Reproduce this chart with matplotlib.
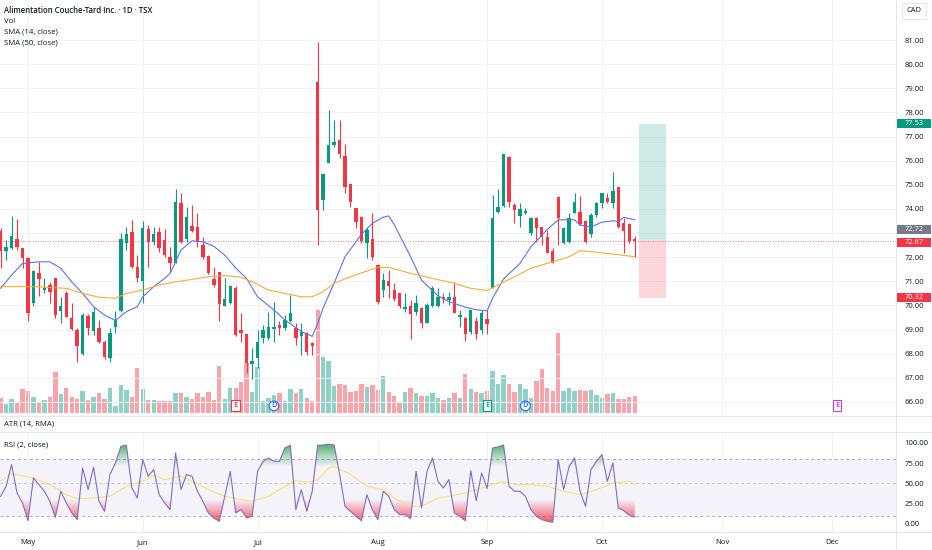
import numpy as np
import matplotlib
matplotlib.use('Agg')
import matplotlib.pyplot as plt
import matplotlib.transforms as mtrans
from matplotlib.patches import PathPatch, Rectangle
from matplotlib.path import Path
from matplotlib.lines import Line2D
from matplotlib.colors import to_rgb

plt.rcParams['font.family'] = ['Open Sans', 'DejaVu Sans']

# ---- daily candles (bar index 0 = Apr 24, bar 5 = May 1) ----
opens = [73.10, 72.24, 72.38, 72.74, 72.37, 71.95, 70.12, 71.36, 70.64, 70.85,
         71.12, 69.78, 70.53, 69.49, 68.98, 68.00, 69.57, 68.95, 69.05, 68.50,
         67.81, 69.12, 69.78, 72.57, 73.06, 71.58, 71.03, 73.16, 72.64, 73.06,
         72.71, 72.02, 71.75, 74.26, 72.74, 73.30, 73.24, 72.50, 72.05, 71.09,
         71.37, 69.99, 70.12, 70.71, 68.98, 68.82, 67.56, 67.81, 68.64, 68.64,
         69.01, 69.19, 69.05, 69.36, 69.05, 68.73, 68.85, 68.43, 79.27, 74.37,
         75.89, 76.65, 76.86, 76.19, 75.03, 74.02, 73.68, 72.57, 72.74, 71.68,
         70.64, 71.01, 70.64, 70.50, 69.85, 69.98, 69.74, 69.88, 69.29, 69.98,
         69.98, 70.36, 70.22, 70.36, 69.51, 69.46, 68.91, 69.37, 69.00, 69.43,
         70.71, 73.89, 74.12, 76.17, 74.16, 73.71, 73.85, 72.99, 73.64, 73.24,
         72.82, 72.26, 74.51, 72.57, 72.64, 73.85, 73.88, 73.51, 72.96, 73.75,
         74.26, 74.44, 74.23, 74.90, 73.40, 73.36, 72.74]
highs = [73.20, 72.71, 73.71, 73.57, 72.40, 72.00, 71.47, 71.81, 71.13, 70.98,
         71.15, 70.36, 70.61, 70.09, 69.05, 69.70, 69.64, 69.95, 69.40, 68.57,
         69.05, 69.77, 72.99, 73.26, 73.54, 72.09, 73.51, 73.33, 73.26, 73.26,
         73.16, 72.44, 74.81, 74.65, 74.09, 74.16, 73.82, 72.83, 72.10, 71.60,
         71.40, 71.12, 70.85, 70.80, 69.70, 68.82, 68.22, 68.98, 69.19, 69.74,
         70.16, 69.37, 69.60, 70.43, 69.26, 69.26, 68.88, 68.50, 80.93, 75.45,
         78.10, 77.68, 77.68, 76.68, 75.05, 74.05, 73.70, 73.26, 73.82, 71.70,
         71.33, 71.47, 70.95, 70.52, 70.50, 70.22, 70.43, 69.95, 70.10, 70.80,
         70.71, 70.50, 70.57, 70.98, 69.81, 69.53, 69.81, 69.53, 69.81, 69.81,
         74.58, 74.81, 76.28, 76.20, 74.26, 74.26, 74.02, 73.68, 73.68, 73.26,
         73.13, 72.40, 74.53, 73.26, 73.85, 74.65, 74.54, 73.55, 73.82, 74.30,
         74.67, 74.65, 75.54, 74.92, 73.61, 73.40, 72.88]
lows = [71.55, 71.90, 72.33, 72.30, 71.55, 69.37, 69.98, 70.39, 70.53, 70.09,
        69.50, 69.26, 69.51, 68.98, 67.67, 67.96, 68.77, 68.77, 68.43, 67.77,
        67.67, 68.84, 69.74, 72.30, 71.54, 70.98, 70.12, 71.58, 72.50, 72.20,
        72.02, 71.40, 71.75, 72.60, 72.64, 73.06, 72.44, 71.91, 71.30, 70.78,
        69.37, 69.97, 70.07, 68.75, 68.50, 67.20, 66.94, 67.40, 68.43, 68.57,
        68.50, 68.77, 69.00, 69.33, 68.36, 67.95, 67.95, 67.95, 72.50, 73.95,
        75.89, 76.58, 76.10, 74.67, 74.10, 73.20, 72.60, 71.95, 71.88, 70.06,
        70.36, 70.30, 70.20, 69.90, 69.74, 68.60, 69.60, 69.05, 69.26, 69.95,
        69.95, 70.09, 70.02, 69.67, 69.12, 68.54, 68.80, 68.60, 68.82, 68.82,
        70.71, 73.85, 74.10, 74.09, 73.40, 73.26, 73.78, 72.92, 72.64, 72.50,
        72.16, 71.75, 72.50, 72.55, 72.57, 73.82, 73.33, 72.57, 72.85, 73.68,
        74.02, 74.26, 74.02, 73.20, 72.19, 72.60, 72.02]
closes = [72.27, 72.41, 72.87, 72.44, 71.95, 69.67, 71.43, 71.08, 70.73, 70.57,
          69.60, 69.99, 69.53, 69.01, 68.32, 69.59, 69.05, 69.72, 68.50, 67.88,
          68.85, 69.40, 72.74, 72.96, 71.58, 71.12, 73.20, 72.64, 72.96, 72.37,
          72.09, 71.77, 74.30, 72.64, 73.68, 73.10, 72.64, 71.99, 71.36, 70.85,
          70.05, 70.26, 70.81, 68.77, 68.87, 67.60, 67.70, 68.50, 68.98, 69.12,
          69.12, 69.08, 69.40, 69.67, 68.64, 68.91, 68.08, 68.32, 73.95, 75.45,
          76.65, 76.79, 76.28, 74.90, 74.30, 73.47, 72.69, 73.13, 71.99, 70.16,
          71.05, 70.81, 70.25, 69.98, 69.92, 69.64, 70.09, 69.29, 70.02, 70.71,
          70.36, 70.25, 70.33, 69.70, 69.60, 68.82, 69.81, 68.82, 69.67, 69.23,
          73.61, 74.10, 76.28, 74.30, 73.95, 74.00, 73.93, 73.64, 73.20, 72.82,
          72.19, 71.77, 73.61, 73.20, 73.61, 74.30, 73.37, 72.64, 73.75, 74.23,
          74.65, 74.30, 74.75, 73.27, 73.10, 72.68, 72.67]
volume = [14.4, 8.7, 13.4, 10.4, 23.4, 21.7, 15.7, 10.4, 12.7, 16.0,
          40.4, 19.0, 24.4, 16.0, 14.0, 21.7, 12.7, 15.7, 19.4, 14.0,
          24.4, 6.7, 28.0, 22.7, 16.0, 44.4, 23.7, 12.7, 12.7, 11.7,
          11.7, 11.7, 19.4, 19.4, 16.0, 13.4, 19.4, 16.0, 21.0, 12.7,
          47.0, 13.4, 24.7, 24.4, 30.7, 49.7, 21.0, 45.4, 12.0, 14.7,
          17.7, 19.4, 12.0, 23.4, 20.0, 23.4, 14.4, 12.0, 102.7, 55.4,
          52.0, 26.7, 28.4, 27.7, 21.0, 22.0, 28.7, 26.0, 27.7, 22.7,
          36.7, 20.4, 16.7, 9.4, 20.4, 25.0, 19.4, 17.0, 16.7, 19.4,
          15.0, 12.7, 14.4, 19.4, 15.0, 38.7, 23.4, 21.0, 19.4, 22.0,
          42.0, 28.7, 37.7, 28.7, 21.0, 28.7, 23.4, 14.4, 32.0, 43.7,
          24.4, 22.0, 79.4, 22.0, 24.4, 22.0, 22.7, 22.0, 22.7, 17.7,
          14.4, 18.4, 19.4, 13.4, 14.0, 15.4, 16.7]

# ---- moving averages (at these bars) ----
sma14_bar = [0, 2, 4, 7, 9, 11, 13, 15, 17, 19, 21, 23, 25, 26, 28, 30, 31, 32, 33,
             35, 37, 39, 41, 43, 45, 47, 50, 52, 55, 57, 58, 59, 61, 63, 66, 68, 70,
             71, 72, 75, 77, 80, 82, 85, 87, 89, 90, 92, 95, 97, 100, 102, 105, 106,
             108, 110, 112, 113, 114, 116]
sma14_val = [70.71, 71.26, 71.74, 71.81, 71.81, 71.54, 70.98, 70.50, 69.95, 69.60,
             69.38, 69.74, 69.95, 70.36, 70.78, 71.12, 71.33, 71.81, 72.30, 72.68,
             72.64, 72.45, 72.09, 71.55, 71.12, 70.36, 69.81, 69.40, 68.92, 68.72,
             69.25, 69.90, 70.92, 72.02, 72.95, 73.40, 73.66, 73.71, 73.35, 72.02,
             71.05, 70.40, 70.16, 69.93, 69.82, 69.78, 70.30, 71.10, 71.74, 72.43,
             73.15, 73.55, 73.55, 73.33, 73.26, 73.45, 73.51, 73.48, 73.65, 73.55]
sma50_bar = [0, 6, 12, 15, 18, 21, 23, 26, 29, 32, 35, 38, 41, 44, 46, 49, 52, 55,
             57, 59, 61, 64, 66, 69, 71, 75, 79, 83, 86, 89, 91, 94, 97, 101, 104,
             106, 108, 112, 116]
sma50_val = [70.78, 70.78, 70.71, 70.50, 70.34, 70.30, 70.50, 70.64, 70.85, 70.98,
             71.08, 71.19, 71.24, 71.17, 70.98, 70.64, 70.50, 70.36, 70.36, 70.57,
             70.92, 71.19, 71.35, 71.58, 71.58, 71.33, 71.12, 70.92, 70.71, 70.62,
             70.85, 71.19, 71.54, 71.81, 72.02, 72.27, 72.23, 72.13, 72.02]

# ---- RSI (2) per bar and its moving average ----
rsi = [34.2, 46.5, 73.3, 38.3, 26.0, 4.1, 56.8, 48.6, 40.4, 28.0,
       8.3, 40.4, 26.0, 13.6, 5.4, 69.1, 42.4, 70.0, 28.0, 15.6,
       61.0, 75.3, 95.9, 97.1, 44.5, 32.1, 79.4, 58.9, 67.1, 36.2,
       26.0, 17.7, 87.7, 42.4, 61.0, 58.9, 40.4, 28.0, 13.6, 7.4,
       3.3, 34.2, 65.0, 13.6, 17.7, 7.4, 9.5, 65.0, 77.4, 81.5,
       77.4, 77.4, 93.8, 97.1, 17.7, 42.4, 15.6, 40.4, 97.0, 97.5,
       98.4, 97.5, 62.0, 21.8, 15.6, 9.5, 4.1, 36.2, 17.7, 5.4,
       40.4, 34.2, 17.7, 11.5, 11.5, 6.6, 65.0, 19.7, 65.0, 81.5,
       52.7, 44.5, 54.7, 13.6, 9.5, 4.1, 65.8, 28.8, 63.0, 43.7,
       93.8, 95.0, 97.5, 46.5, 40.4, 40.4, 34.2, 17.7, 9.5, 5.4,
       3.3, 2.1, 79.4, 42.4, 71.2, 81.5, 40.4, 21.8, 67.1, 77.4,
       85.6, 52.7, 75.3, 19.7, 16.5, 10.7, 8.6]
rsi_ma_bar = [0, 2, 6, 9, 12, 14, 17, 20, 23, 26, 28, 30, 33, 35, 38, 41, 44, 46, 49,
              51, 54, 56, 58, 60, 61, 64, 67, 70, 72, 75, 77, 80, 82, 85, 88, 92, 94,
              97, 100, 103, 106, 109, 112, 115, 116]
rsi_ma_val = [52.7, 61.8, 56.8, 48.6, 36.2, 31.3, 32.1, 34.2, 46.5, 52.7, 60.2, 54.7,
              58.9, 52.7, 42.4, 34.2, 30.1, 28.0, 34.2, 42.4, 53.5, 51.5, 54.7, 69.1,
              71.2, 61.0, 46.5, 42.4, 32.1, 21.8, 21.8, 32.1, 34.2, 38.3, 44.5, 52.7,
              48.6, 48.6, 46.5, 40.4, 36.2, 42.4, 50.6, 52.7, 48.6]

month_bar = [5, 26, 47, 69, 89, 110, 132, 152]
month_lbl = ['May', 'Jun', 'Jul', 'Aug', 'Sep', 'Oct', 'Nov', 'Dec']

price_ticks = list(range(66, 82))
hidden_ticks = [73]          # covered by the price tags on the platform

last_price = 72.67
entry, target, stop = 72.72, 77.53, 70.32
pos_start, pos_end = 116.8, 121.7

# (label, bar, colour, circle?)
events = [('E', 43, '#F23645', False), ('D', 50, '#2962FF', True),
          ('E', 89, '#089981', False), ('D', 96, '#2962FF', True),
          ('E', 153, '#C23BD4', False)]

UP, DOWN = '#089981', '#F23645'
TXT = '#131722'
GRID = '#F2F3F7'

W, H = 932, 550
fig = plt.figure(figsize=(W / 100, H / 100), dpi=100)


def box(x0, y0, x1, y1):
    return [x0 / W, 1 - y1 / H, (x1 - x0) / W, (y1 - y0) / H]


vax = fig.add_axes(box(0, 0, 896, 415))
ax = fig.add_axes(box(0, 0, 896, 415), sharex=vax)
rax = fig.add_axes(box(0, 433, 896, 532), sharex=vax)
ax.patch.set_alpha(0)

bars = np.arange(len(closes))
o = np.array(opens); c = np.array(closes)
hi = np.array(highs); lo = np.array(lows)
up = c >= o
cols = np.where(up, UP, DOWN)

# volume underneath
vax.bar(bars, volume, width=0.8, color=cols, alpha=0.45, lw=0)
vax.set_ylim(-2.3, 412.7)
vax.axis('off')

# candles
ax.vlines(bars, lo, hi, colors=cols, lw=0.8, zorder=3)
body = np.maximum(np.abs(c - o), 0.04)
ax.bar(bars, body, bottom=np.minimum(o, c), width=0.62, color=cols, lw=0, zorder=4)

ax.plot(sma14_bar, sma14_val, color='#5B74E3', lw=0.8, zorder=5)
ax.plot(sma50_bar, sma50_val, color='#F5AC3B', lw=0.8, zorder=5)

ax.axhline(last_price, color=DOWN, lw=0.6, ls=(0, (1, 2)), alpha=0.8, zorder=2)

# long position box
ax.add_patch(Rectangle((pos_start, entry), pos_end - pos_start, target - entry,
                       fc=UP, alpha=0.2, lw=0, zorder=2))
ax.add_patch(Rectangle((pos_start, stop), pos_end - pos_start, entry - stop,
                       fc=DOWN, alpha=0.2, lw=0, zorder=2))

# earnings / dividend flags
for lbl, b, col, circ in events:
    ax.text(b, 0.022, lbl, transform=ax.get_xaxis_transform(), ha='center', va='center',
            fontsize=5.4, color=col, zorder=6, fontweight='semibold',
            bbox=dict(boxstyle='circle,pad=0.18' if circ else 'square,pad=0.28',
                      fc='white', ec=col, lw=0.8))

ax.set_xlim(-0.12, 163.8)
ax.set_ylim(65.46, 82.66)
ax.set_yticks(price_ticks)
ax.set_yticklabels(['' if v in hidden_ticks else f'{v:.2f}' for v in price_ticks])
ax.yaxis.tick_right()
ax.tick_params(axis='y', length=0, pad=6, labelsize=5.6, labelcolor=TXT)
ax.tick_params(axis='x', length=0, labelbottom=False)
ax.set_xticks(month_bar)
ax.grid(color=GRID, lw=0.7)
for s in ax.spines.values():
    s.set_visible(False)

# ---- RSI pane ----
rsi_a = np.array(rsi)
rax.axhspan(10, 80, color='#7E57C2', alpha=0.07, lw=0)
for lvl, a in [(80, 0.8), (50, 0.45), (10, 0.8)]:
    rax.axhline(lvl, color='#9598A1', lw=0.7, ls=(0, (3, 3)), alpha=a)


def gradient_fill(axis, x, y, level, far, color, above):
    mask = y >= level if above else y <= level
    coll = axis.fill_between(x, y, level, where=mask, interpolate=True,
                             color='none', lw=0)
    paths = coll.get_paths()
    if not paths:
        return
    clip = PathPatch(Path.make_compound_path(*paths), transform=axis.transData,
                     fc='none', ec='none')
    axis.add_patch(clip)
    n = 80
    img = np.zeros((n, 1, 4))
    img[..., :3] = to_rgb(color)
    if above:
        img[:, 0, 3] = np.linspace(0, 0.9, n)
        ext = [x[0], x[-1], level, far]
    else:
        img[:, 0, 3] = np.linspace(0.9, 0, n)
        ext = [x[0], x[-1], far, level]
    im = axis.imshow(img, extent=ext, origin='lower', aspect='auto', zorder=2,
                     interpolation='bilinear')
    im.set_clip_path(clip)


gradient_fill(rax, bars.astype(float), rsi_a, 70, 100, '#2E9E4F', True)
gradient_fill(rax, bars.astype(float), rsi_a, 30, 0, '#F23645', False)

rax.plot(bars, rsi_a, color='#7E6CC6', lw=0.8, zorder=4)
rax.plot(rsi_ma_bar, rsi_ma_val, color='#F3E477', lw=0.8, zorder=3)

rax.set_xlim(-0.12, 163.8)
rax.set_ylim(-9.9, 112.3)
rax.set_yticks([0, 25, 50, 75, 100])
rax.set_yticklabels(['0.00', '25.00', '50.00', '75.00', '100.00'])
rax.yaxis.tick_right()
rax.tick_params(axis='y', length=0, pad=6, labelsize=5.6, labelcolor=TXT)
rax.set_xticks(month_bar)
rax.set_xticklabels(month_lbl)
rax.tick_params(axis='x', length=0, pad=5, labelsize=5.6, labelcolor=TXT)
rax.grid(axis='x', color=GRID, lw=0.7)
for s in rax.spines.values():
    s.set_visible(False)

# ---- right-axis price tags (grey/red pair nudged apart like the platform does) ----
tag_tr = mtrans.blended_transform_factory(fig.transFigure, ax.transData)
for val, shown, col in [(target, target, UP), (entry, 73.16, '#787B86'),
                        (last_price, 72.60, DOWN), (stop, stop, DOWN)]:
    fig.add_artist(Rectangle((897 / W, shown - 0.19), 34 / W, 0.38, transform=tag_tr,
                             fc=col, ec='none', zorder=5))
    fig.text(914 / W, shown, f'{val:.2f}', transform=tag_tr, ha='center', va='center',
             fontsize=5.4, color='white', zorder=6)

# ---- pane separators and labels ----
for y in (416, 432, 532):
    fig.add_artist(Line2D([0, 1], [1 - y / H] * 2, color='#E0E3EB', lw=0.6))
fig.add_artist(Line2D([896 / W] * 2, [0, 1], color='#E0E3EB', lw=0.6))

fig.text(914 / W, 1 - 11 / H, 'CAD', ha='center', va='center', fontsize=5.4, color=TXT,
         bbox=dict(boxstyle='square,pad=0.6', fc='white', ec='#E0E3EB', lw=0.6))

legend = [('Alimentation Couche-Tard Inc. · 1D · TSX', 10.7, 'semibold'),
          ('Vol', 21.2, 'normal'), ('SMA (14, close)', 32.1, 'normal'),
          ('SMA (50, close)', 42.8, 'normal')]
for s, y, wgt in legend:
    fig.text(4 / W, 1 - y / H, s, ha='left', va='center', fontsize=5.6, color=TXT,
             fontweight=wgt)
fig.text(4 / W, 1 - 424 / H, 'ATR (14, RMA)', ha='left', va='center', fontsize=5.6, color=TXT)
fig.text(4 / W, 1 - 445 / H, 'RSI (2, close)', ha='left', va='center', fontsize=5.6, color=TXT)

fig.savefig('out.png', dpi=100)
